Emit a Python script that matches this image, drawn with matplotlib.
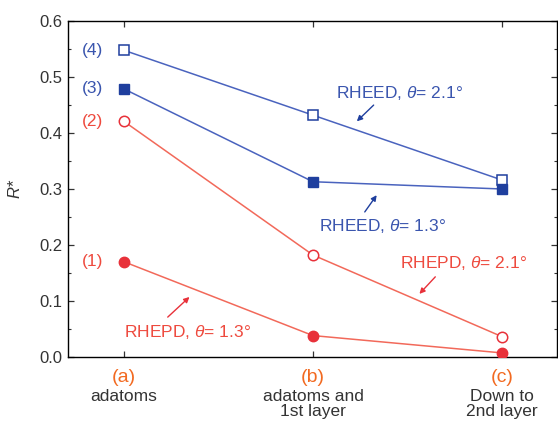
import matplotlib
matplotlib.use("Agg")
import matplotlib.pyplot as plt
from matplotlib.ticker import MultipleLocator
import matplotlib.transforms as mtransforms

plt.rcParams.update({
    "font.family": ["Liberation Sans", "DejaVu Sans"],
    "mathtext.fontset": "custom",
    "mathtext.rm": "Liberation Sans",
    "mathtext.it": "Liberation Sans:italic",
    "axes.linewidth": 1.0,
})

# ---- data ----
categories = [0, 1, 2]
cat_letters = ["(a)", "(b)", "(c)"]
cat_names = ["adatoms", "adatoms and\n1st layer", "Down to\n2nd layer"]

rheed_21 = [0.548, 0.432, 0.316]   # (4) open squares
rheed_13 = [0.479, 0.313, 0.300]   # (3) filled squares
rhepd_21 = [0.421, 0.182, 0.036]   # (2) open circles
rhepd_13 = [0.170, 0.038, 0.007]   # (1) filled circles

BLUE_LINE = "#4A63BE"
BLUE_MK = "#1F3F9E"
BLUE_TXT = "#3A55AE"
RED_LINE = "#F2695A"
RED_MK = "#E8313A"
RED_TXT = "#EE4A3E"
ORANGE = "#F26A21"
GRAY = "#333333"

fig = plt.figure(figsize=(5.58, 4.32), dpi=100)
ax = fig.add_axes([0.122, 0.174, 0.876, 0.777])

ax.plot(categories, rheed_21, color=BLUE_LINE, lw=1.1, marker="s", ms=7,
        mfc="white", mec=BLUE_MK, mew=1.1, zorder=3)
ax.plot(categories, rheed_13, color=BLUE_LINE, lw=1.1, marker="s", ms=7,
        mfc=BLUE_MK, mec=BLUE_MK, zorder=3)
ax.plot(categories, rhepd_21, color=RED_LINE, lw=1.1, marker="o", ms=7.5,
        mfc="white", mec=RED_MK, mew=1.1, zorder=3)
ax.plot(categories, rhepd_13, color=RED_LINE, lw=1.1, marker="o", ms=7.5,
        mfc=RED_MK, mec=RED_MK, zorder=3)

ax.set_xlim(-0.295, 2.29)
ax.set_ylim(0, 0.6)
ax.set_xticks(categories)
ax.set_xticklabels([])
ax.yaxis.set_major_locator(MultipleLocator(0.1))
ax.yaxis.set_minor_locator(MultipleLocator(0.05))
ax.tick_params(which="both", direction="in", top=True, right=True,
               labelsize=12, colors=GRAY, labelcolor=GRAY)
ax.tick_params(which="major", length=4, width=0.9, pad=4)
ax.tick_params(which="minor", length=2.5, width=0.8)
ax.set_yticks([0, 0.1, 0.2, 0.3, 0.4, 0.5, 0.6])
ax.set_yticklabels(["0.0", "0.1", "0.2", "0.3", "0.4", "0.5", "0.6"])
ax.set_ylabel("$R$*", fontsize=12, color=GRAY, labelpad=12)

# category labels below the axis
trans = mtransforms.blended_transform_factory(ax.transData, ax.transAxes)
for x, letter, name in zip(categories, cat_letters, cat_names):
    ax.text(x, -0.062, letter, transform=trans, ha="center", va="center",
            fontsize=14, color=ORANGE)
    ax.text(x, -0.097, name, transform=trans, ha="center", va="top",
            fontsize=12.5, color=GRAY, linespacing=1.0)

# series numbers
for lab, series, c in [("(4)", rheed_21, BLUE_TXT), ("(3)", rheed_13, BLUE_TXT),
                       ("(2)", rhepd_21, RED_TXT), ("(1)", rhepd_13, RED_TXT)]:
    ax.text(-0.165, series[0], lab, ha="center", va="center", fontsize=12.5, color=c)

# annotations with arrows
arrow_kw = dict(arrowstyle="-|>", lw=1.0, mutation_scale=8, shrinkA=0, shrinkB=0)
ax.text(1.458, 0.471, r"RHEED, $\theta$= 2.1°", ha="center", va="center",
        fontsize=12.5, color=BLUE_TXT)
ax.annotate("", xy=(1.232, 0.421), xytext=(1.321, 0.45),
            arrowprops=dict(color=BLUE_MK, **arrow_kw))
ax.text(1.368, 0.234, r"RHEED, $\theta$= 1.3°", ha="center", va="center",
        fontsize=12.5, color=BLUE_TXT)
ax.annotate("", xy=(1.337, 0.289), xytext=(1.274, 0.259),
            arrowprops=dict(color=BLUE_MK, **arrow_kw))
ax.text(1.795, 0.168, r"RHEPD, $\theta$= 2.1°", ha="center", va="center",
        fontsize=12.5, color=RED_TXT)
ax.annotate("", xy=(1.563, 0.1125), xytext=(1.647, 0.143),
            arrowprops=dict(color=RED_MK, **arrow_kw))
ax.text(0.335, 0.045, r"RHEPD, $\theta$= 1.3°", ha="center", va="center",
        fontsize=12.5, color=RED_TXT)
ax.annotate("", xy=(0.347, 0.107), xytext=(0.232, 0.071),
            arrowprops=dict(color=RED_MK, **arrow_kw))

fig.savefig("out.png", dpi=100)
